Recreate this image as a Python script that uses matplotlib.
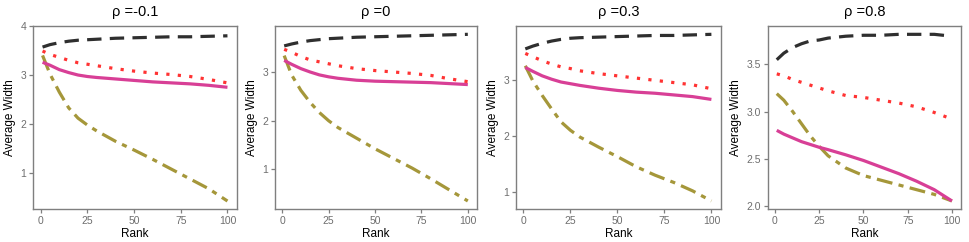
import matplotlib
matplotlib.use("Agg")
import matplotlib.pyplot as plt

plt.rcParams['font.family'] = ['Liberation Sans', 'DejaVu Sans']

rank = [1, 5, 10, 15, 20, 25, 30, 40, 50, 60, 70, 80, 90, 100]
rhos = ["-0.1", "0", "0.3", "0.8"]

# one list per panel, per method
black = [
    [3.57, 3.62, 3.66, 3.69, 3.71, 3.72, 3.73, 3.75, 3.76, 3.77, 3.78, 3.78, 3.79, 3.80],
    [3.55, 3.59, 3.63, 3.66, 3.68, 3.70, 3.71, 3.73, 3.74, 3.75, 3.76, 3.77, 3.78, 3.79],
    [3.55, 3.60, 3.65, 3.69, 3.72, 3.74, 3.75, 3.76, 3.77, 3.78, 3.79, 3.79, 3.80, 3.81],
    [3.55, 3.62, 3.68, 3.72, 3.75, 3.76, 3.78, 3.80, 3.81, 3.81, 3.82, 3.82, 3.82, 3.80],
]
red = [
    [3.49, 3.42, 3.36, 3.30, 3.25, 3.22, 3.19, 3.13, 3.08, 3.04, 3.01, 2.97, 2.91, 2.84],
    [3.48, 3.42, 3.33, 3.26, 3.22, 3.18, 3.14, 3.08, 3.04, 3.01, 2.98, 2.94, 2.87, 2.81],
    [3.47, 3.41, 3.34, 3.28, 3.23, 3.20, 3.16, 3.11, 3.07, 3.03, 2.99, 2.95, 2.91, 2.84],
    [3.40, 3.38, 3.34, 3.31, 3.28, 3.25, 3.22, 3.17, 3.15, 3.12, 3.09, 3.05, 2.99, 2.92],
]
magenta = [
    [3.26, 3.20, 3.11, 3.05, 3.00, 2.97, 2.95, 2.92, 2.89, 2.86, 2.84, 2.82, 2.79, 2.75],
    [3.25, 3.17, 3.08, 3.01, 2.95, 2.91, 2.88, 2.84, 2.82, 2.81, 2.80, 2.79, 2.77, 2.75],
    [3.22, 3.15, 3.07, 3.01, 2.96, 2.93, 2.90, 2.85, 2.81, 2.78, 2.76, 2.73, 2.70, 2.65],
    [2.80, 2.76, 2.72, 2.68, 2.65, 2.62, 2.595, 2.54, 2.48, 2.41, 2.34, 2.26, 2.17, 2.05],
]
olive = [
    [3.40, 3.02, 2.65, 2.33, 2.12, 1.98, 1.86, 1.65, 1.47, 1.28, 1.08, 0.88, 0.68, 0.43],
    [3.35, 2.95, 2.63, 2.38, 2.17, 2.00, 1.86, 1.64, 1.42, 1.22, 1.02, 0.80, 0.57, 0.34],
    [3.25, 2.98, 2.72, 2.48, 2.25, 2.10, 1.98, 1.80, 1.63, 1.45, 1.30, 1.17, 1.02, 0.84],
    [3.19, 3.12, 3.00, 2.87, 2.74, 2.63, 2.53, 2.40, 2.32, 2.27, 2.22, 2.17, 2.12, 2.05],
]
yticks = [[1, 2, 3, 4], [1, 2, 3], [1, 2, 3], [2.0, 2.5, 3.0, 3.5]]
ytick_labels = [["1", "2", "3", "4"], ["1", "2", "3"], ["1", "2", "3"],
                ["2.0", "2.5", "3.0", "3.5"]]
xticks = [0, 25, 50, 75, 100]

W, H = 969, 242
fig = plt.figure(figsize=(W / 100, H / 100), dpi=100)

boxes = [(33.3, 236.7), (275, 477), (516, 720.7), (768, 960.7)]
top, bottom = 26, 209.3
grey = '#7f7f7f'
lw = 2.3

for i, (l, r) in enumerate(boxes):
    ax = fig.add_axes([l / W, 1 - bottom / H, (r - l) / W, (bottom - top) / H])
    ax.plot(rank, olive[i], color='#a5973a', lw=lw, dashes=(5, 2, 1.6, 2))
    ax.plot(rank, magenta[i], color='#d83f96', lw=lw, solid_capstyle='butt')
    ax.plot(rank, red[i], color='#ff3333', lw=lw, dashes=(1, 2.6))
    ax.plot(rank, black[i], color='#2f2f2f', lw=lw, dashes=(4.5, 2.6))
    ax.set_xticks(xticks)
    ax.set_yticks(yticks[i])
    ax.set_yticklabels(ytick_labels[i])
    for s in ax.spines.values():
        s.set_color(grey)
        s.set_linewidth(1.0)
    ax.tick_params(colors=grey, labelcolor='#6e6e6e', labelsize=7.5, length=3, width=0.9, pad=2)
    ax.set_xlabel("Rank", fontsize=8.5, labelpad=1)
    ax.set_ylabel("Average Width", fontsize=8.5, labelpad=3)
    ax.set_title("ρ =" + rhos[i], fontsize=10.5, pad=7)

fig.savefig("out.png", dpi=100)
